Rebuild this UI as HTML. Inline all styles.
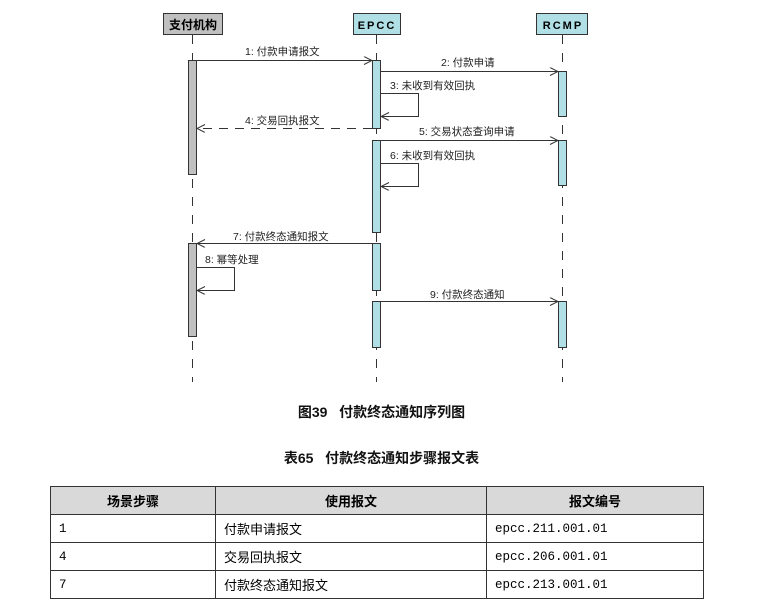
<!DOCTYPE html>
<html><head><meta charset="utf-8"><style>
body{margin:0;background:#fff;width:763px;height:613px;overflow:hidden;position:relative;font-family:"Liberation Sans","Noto Sans CJK SC",sans-serif}
svg{position:absolute;left:0;top:0}
.cap{position:absolute;left:0;width:763px;text-align:center;font-size:14px;color:#111;font-weight:bold}
table{position:absolute;left:50px;top:486px;border-collapse:collapse;font-size:13px}
td,th{border:1px solid #333;padding:0 8px;height:27px}
th{background:#d9d9d9;font-weight:bold;text-align:center}
td.m{font-family:"Liberation Mono","Noto Sans CJK SC",monospace;font-size:12.5px}
</style></head><body>
<svg width="763" height="400" xmlns="http://www.w3.org/2000/svg" font-family="Liberation Sans,Noto Sans CJK SC,sans-serif" font-size="10.5">
<defs><marker id="a" markerWidth="10" markerHeight="10" refX="9" refY="4" orient="auto" markerUnits="userSpaceOnUse"><path d="M1,0 L9,4 L1,8" fill="none" stroke="#333" stroke-width="1"/></marker></defs>
<g stroke="#333" stroke-width="1" stroke-dasharray="9,9">
<line x1="192.5" y1="35" x2="192.5" y2="382"/>
<line x1="376.5" y1="35" x2="376.5" y2="382"/>
<line x1="562.5" y1="35" x2="562.5" y2="382"/>
</g>
<rect x="163.5" y="13.5" width="59" height="21" fill="#c0c0c0" stroke="#333"/>
<text x="193" y="29" text-anchor="middle" font-weight="bold" font-size="12">支付机构</text>
<rect x="353.5" y="13.5" width="47" height="21" fill="#b0e0e6" stroke="#333"/>
<text x="377" y="29" text-anchor="middle" font-weight="bold" font-size="11" letter-spacing="2">EPCC</text>
<rect x="536.5" y="13.5" width="51" height="21" fill="#b0e0e6" stroke="#333"/>
<text x="563" y="29" text-anchor="middle" font-weight="bold" font-size="11" letter-spacing="2">RCMP</text>
<g stroke="#333" fill="#c0c0c0">
<rect x="188.5" y="60.5" width="8" height="114"/>
<rect x="188.5" y="243.5" width="8" height="93"/>
</g>
<g stroke="#333" fill="#b0e0e6">
<rect x="372.5" y="60.5" width="8" height="68"/>
<rect x="372.5" y="140.5" width="8" height="92"/>
<rect x="372.5" y="243.5" width="8" height="47"/>
<rect x="372.5" y="301.5" width="8" height="46"/>
<rect x="558.5" y="71.5" width="8" height="45"/>
<rect x="558.5" y="140.5" width="8" height="45"/>
<rect x="558.5" y="301.5" width="8" height="46"/>
</g>
<g stroke="#333" fill="none" stroke-width="1">
<line x1="197" y1="60.5" x2="372" y2="60.5" marker-end="url(#a)"/>
<line x1="381" y1="71.5" x2="558" y2="71.5" marker-end="url(#a)"/>
<polyline points="381,93.5 418.5,93.5 418.5,116.5 381,116.5" marker-end="url(#a)"/>
<line x1="372" y1="128.5" x2="197" y2="128.5" stroke-dasharray="9,7" marker-end="url(#a)"/>
<line x1="381" y1="140.5" x2="558" y2="140.5" marker-end="url(#a)"/>
<polyline points="381,163.5 418.5,163.5 418.5,186.5 381,186.5" marker-end="url(#a)"/>
<line x1="372" y1="243.5" x2="197" y2="243.5" marker-end="url(#a)"/>
<polyline points="197,267.5 234.5,267.5 234.5,290.5 197,290.5" marker-end="url(#a)"/>
<line x1="381" y1="301.5" x2="558" y2="301.5" marker-end="url(#a)"/>
</g>
<g fill="#222">
<text x="245" y="55">1: 付款申请报文</text>
<text x="441" y="66">2: 付款申请</text>
<text x="390" y="89">3: 未收到有效回执</text>
<text x="245" y="124" style="paint-order:stroke" stroke="#fff" stroke-width="4">4: 交易回执报文</text>
<text x="419" y="135">5: 交易状态查询申请</text>
<text x="390" y="159">6: 未收到有效回执</text>
<text x="233" y="240">7: 付款终态通知报文</text>
<text x="205" y="263">8: 幂等处理</text>
<text x="430" y="298">9: 付款终态通知</text>
</g>
</svg>
<div class="cap" style="top:402px">图39&nbsp;&nbsp;&nbsp;付款终态通知序列图</div>
<div class="cap" style="top:448px">表65&nbsp;&nbsp;&nbsp;付款终态通知步骤报文表</div>
<table>
<tr><th style="width:148px">场景步骤</th><th style="width:254px">使用报文</th><th style="width:200px">报文编号</th></tr>
<tr><td class="m">1</td><td>付款申请报文</td><td class="m">epcc.211.001.01</td></tr>
<tr><td class="m">4</td><td>交易回执报文</td><td class="m">epcc.206.001.01</td></tr>
<tr><td class="m">7</td><td>付款终态通知报文</td><td class="m">epcc.213.001.01</td></tr>
</table>
</body></html>
